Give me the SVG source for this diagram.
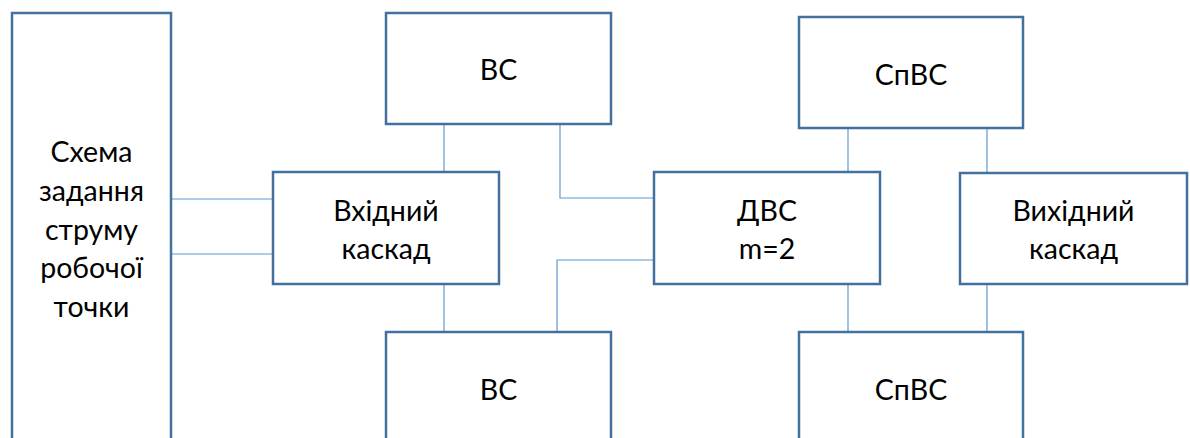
<svg xmlns="http://www.w3.org/2000/svg" width="1190" height="438" viewBox="0 0 1190 438">
  <style>
    .box { fill: #ffffff; stroke: #41719C; stroke-width: 2.5; }
    .wire { fill: none; stroke: #5B9BD5; stroke-width: 1.2; }
    .lbl { font-family: "Lato", "Liberation Sans", sans-serif; font-size: 28.5px; fill: #000000; text-anchor: middle; }
  </style>
  <rect width="1190" height="438" fill="#ffffff"/>

  <!-- connectors -->
  <g id="connectors">
    <path class="wire" d="M171 199 H273"/>
    <path class="wire" d="M171 254 H273"/>
    <path class="wire" d="M444 124 V172"/>
    <path class="wire" d="M444 284 V332"/>
    <path class="wire" d="M560 124 V198 H654"/>
    <path class="wire" d="M557 332 V260 H654"/>
    <path class="wire" d="M848 128 V172"/>
    <path class="wire" d="M987 128 V173"/>
    <path class="wire" d="M848 284 V332"/>
    <path class="wire" d="M987 284 V332"/>
  </g>

  <!-- bias current source -->
  <g id="bias">
    <rect class="box" x="12" y="13" width="159" height="440"/>
    <text class="lbl" x="91.5" y="162">Схема</text>
    <text class="lbl" x="91.5" y="201">задання</text>
    <text class="lbl" x="91.5" y="240">струму</text>
    <text class="lbl" x="91.5" y="278">робочої</text>
    <text class="lbl" x="91.5" y="317">точки</text>
  </g>

  <g id="input-stage">
    <rect class="box" x="273" y="172" width="226" height="112"/>
    <text class="lbl" x="386" y="221">Вхідний</text>
    <text class="lbl" x="386" y="259">каскад</text>
  </g>

  <g id="vs-top">
    <rect class="box" x="386" y="13" width="225" height="111"/>
    <text class="lbl" x="498.5" y="80">ВС</text>
  </g>

  <g id="vs-bottom">
    <rect class="box" x="386" y="332" width="225" height="120"/>
    <text class="lbl" x="498.5" y="400">ВС</text>
  </g>

  <g id="dvs">
    <rect class="box" x="654" y="172" width="226" height="112"/>
    <text class="lbl" x="767" y="221">ДВС</text>
    <text class="lbl" x="767" y="259">m=2</text>
  </g>

  <g id="spvs-top">
    <rect class="box" x="799" y="17" width="224" height="111"/>
    <text class="lbl" x="911" y="85">СпВС</text>
  </g>

  <g id="spvs-bottom">
    <rect class="box" x="799" y="332" width="224" height="120"/>
    <text class="lbl" x="911" y="400">СпВС</text>
  </g>

  <g id="output-stage">
    <rect class="box" x="960" y="173" width="227" height="111"/>
    <text class="lbl" x="1073.5" y="221">Вихідний</text>
    <text class="lbl" x="1073.5" y="259">каскад</text>
  </g>
</svg>
